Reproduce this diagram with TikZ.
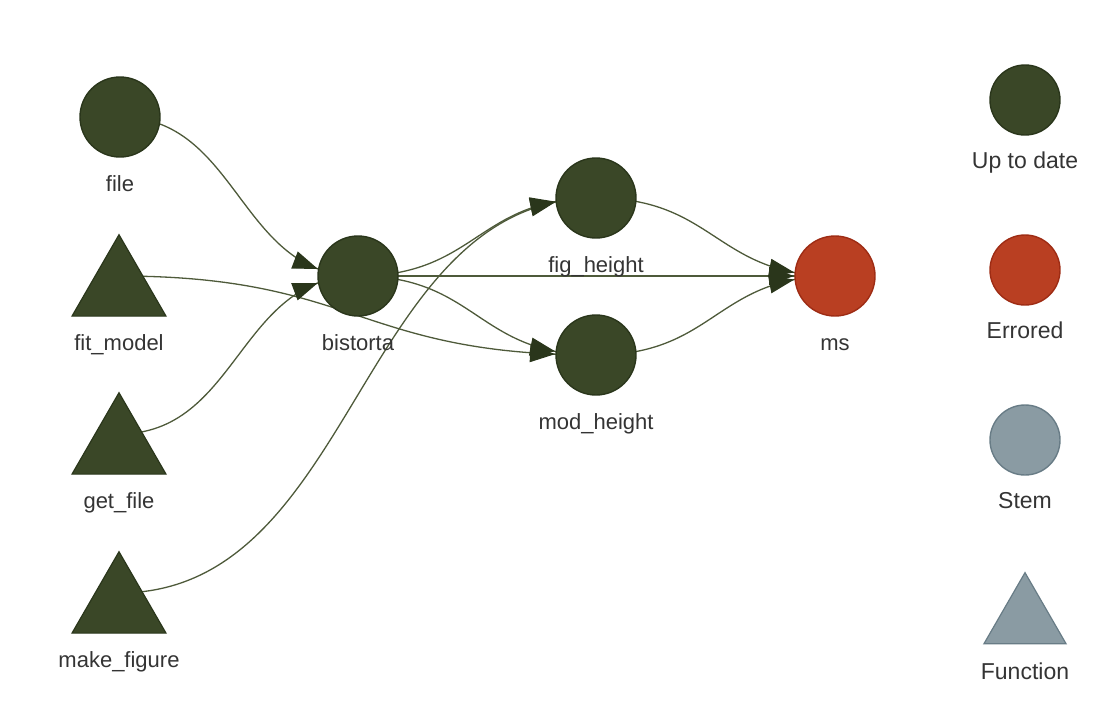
\documentclass[tikz,border=0pt]{standalone}
\usepackage{fontspec}
\setmainfont{Liberation Sans}
\usetikzlibrary{arrows.meta,shapes.geometric,positioning,calc,decorations.markings,backgrounds}
\definecolor{okgreen}{RGB}{58,71,39}
\definecolor{okborder}{RGB}{42,54,27}
\definecolor{errred}{RGB}{185,63,34}
\definecolor{errborder}{RGB}{158,44,20}
\definecolor{stemgrey}{RGB}{138,155,163}
\definecolor{stemborder}{RGB}{104,124,134}
\definecolor{edgecol}{RGB}{78,90,58}
\definecolor{headcol}{RGB}{42,54,27}
\definecolor{txtcol}{RGB}{52,52,52}
\tikzset{
	uptodate/.style={circle, draw=okborder, fill=okgreen, line width=1.4pt, minimum size=80pt, inner sep=0pt},
	errored/.style={uptodate, draw=errborder, fill=errred},
	stemnode/.style={uptodate, draw=stemborder, fill=stemgrey},
	funcnode/.style={regular polygon, regular polygon sides=3, draw=okborder, fill=okgreen, line width=1.2pt, minimum size=108.5pt, inner sep=0pt},
	txt/.style={text=txtcol, font=\fontsize{22}{26}\selectfont, inner sep=0pt},
	lgd/.style={font=\fontsize{23}{27}\selectfont},
	% curve leaves and enters horizontally, controls half way across
	flow/.style={to path={let \p1=(\tikztostart), \p2=(\tikztotarget), \n1={0.5*(\x1+\x2)} in
		.. controls (\n1,\y1) and (\n1,\y2) .. (\tikztotarget)}},
	dep/.style={draw=edgecol, line width=1.3pt, flow,
		postaction={decorate, decoration={markings,
			mark=at position -41pt with {\arrow{Triangle[length=25pt,width=18pt,color=headcol]}}}}},
}
\begin{document}
\begin{tikzpicture}[x=1pt,y=-1pt]
	\useasboundingbox (0,0) rectangle (1104,726);
	% graph
	\node[uptodate] (file) at (120,117) {};
	\node[funcnode] (fit_model) at (119,289) {};
	\node[funcnode] (get_file) at (119,447) {};
	\node[funcnode] (make_figure) at (119,606) {};
	\node[uptodate] (bistorta) at (358,276) {};
	\node[uptodate] (fig_height) at (596,198) {};
	\node[uptodate] (mod_height) at (596,355) {};
	\node[errored] (ms) at (835,276) {};
	\node[txt, below=34pt of file, anchor=base] (file-l) {file};
	\node[txt, below=34pt of fit_model, anchor=base] (fit_model-l) {fit\_model};
	\node[txt, below=34pt of get_file, anchor=base] (get_file-l) {get\_file};
	\node[txt, below=34pt of make_figure, anchor=base] (make_figure-l) {make\_figure};
	\node[txt, below=34pt of bistorta, anchor=base] (bistorta-l) {bistorta};
	\node[txt, below=34pt of fig_height, anchor=base] (fig_height-l) {fig\_height};
	\node[txt, below=34pt of mod_height, anchor=base] (mod_height-l) {mod\_height};
	\node[txt, below=34pt of ms, anchor=base] (ms-l) {ms};
	\begin{scope}[on background layer]
		\draw[dep] (file.center) to (bistorta.center);
		\draw[dep] ([yshift=13pt]fit_model.center) to (mod_height.center);
		\draw[dep] ([yshift=13pt]get_file.center) to (bistorta.center);
		\draw[dep] ([yshift=13pt]make_figure.center) to (fig_height.center);
		\draw[dep] (bistorta.center) to (fig_height.center);
		\draw[dep] (bistorta.center) to (ms.center);
		\draw[dep] (bistorta.center) to (mod_height.center);
		\draw[dep] (fig_height.center) to (ms.center);
		\draw[dep] (mod_height.center) to (ms.center);
	\end{scope}
	% legend
	\node[uptodate, minimum size=70pt] (key_ok) at (1025,100) {};
	\node[errored, minimum size=70pt] (key_err) at (1025,270) {};
	\node[stemnode, minimum size=70pt] (key_stem) at (1025,440) {};
	\node[funcnode, draw=stemborder, fill=stemgrey, minimum size=94.7pt] (key_fn) at (1025,620) {};
	\node[txt, lgd, below=33pt of key_ok, anchor=base] (key_ok-l) {Up to date};
	\node[txt, lgd, below=33pt of key_err, anchor=base] (key_err-l) {Errored};
	\node[txt, lgd, below=33pt of key_stem, anchor=base] (key_stem-l) {Stem};
	\node[txt, lgd, below=35.5pt of key_fn, anchor=base] (key_fn-l) {Function};
\end{tikzpicture}
\end{document}
